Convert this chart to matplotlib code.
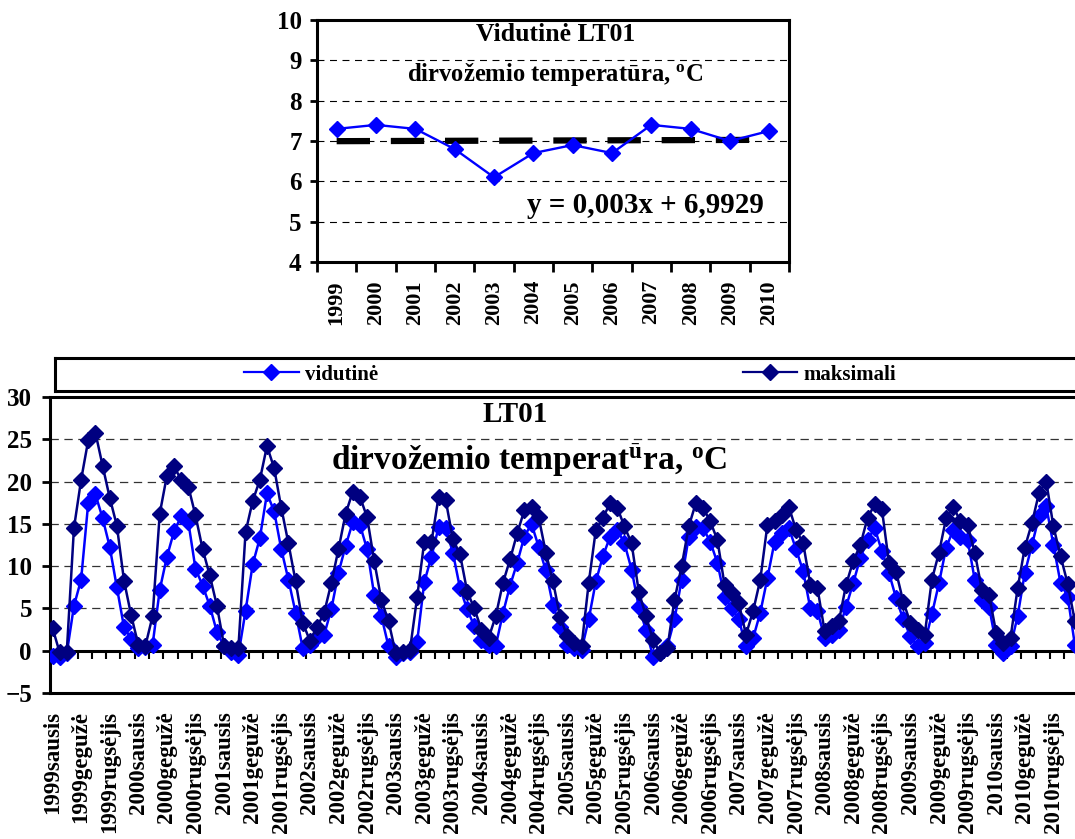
import numpy as np
import matplotlib
matplotlib.use('Agg')
import matplotlib.pyplot as plt
from matplotlib.lines import Line2D

plt.rcParams['font.family'] = ['Liberation Serif', 'DejaVu Serif']
plt.rcParams['font.weight'] = 'bold'
plt.rcParams['mathtext.default'] = 'regular'
plt.rcParams['lines.scale_dashes'] = False

# yearly mean soil temperature (top chart)
years = [1999, 2000, 2001, 2002, 2003, 2004, 2005, 2006, 2007, 2008, 2009, 2010]
yearly_mean = [7.3, 7.4, 7.3, 6.8, 6.1, 6.7, 6.9, 6.7, 7.4, 7.3, 7.0, 7.25]
trend_slope, trend_icpt = 0.003, 6.9929

# monthly values (bottom chart), one row per year
vidutine = [
    -0.6, -0.8, -0.3, 5.3, 8.4, 17.5, 18.5, 15.7, 12.3, 7.5, 2.8, 1.4,
    0.3, 0.4, 0.7, 7.2, 11.1, 14.1, 15.9, 15.2, 9.7, 7.7, 5.3, 2.2,
    0.5, -0.1, -0.5, 4.7, 10.2, 13.3, 18.6, 16.5, 12.0, 8.4, 4.5, 0.3,
    0.7, 1.6, 1.9, 4.9, 9.2, 12.4, 15.2, 14.9, 12.0, 6.6, 4.1, 0.5,
    -0.7, -0.3, -0.1, 1.0, 8.1, 11.1, 14.6, 14.5, 11.6, 7.4, 4.9, 2.9,
    1.3, 0.7, 0.6, 4.4, 7.7, 10.4, 13.5, 15.0, 12.3, 9.5, 5.4, 2.8,
    0.7, 0.3, 0.1, 3.7, 8.2, 11.2, 13.5, 14.3, 12.7, 9.6, 5.2, 2.5,
    -0.7, -0.3, 0.5, 3.7, 8.4, 13.5, 14.6, 14.5, 12.9, 10.4, 6.4, 5.0,
    3.7, 0.5, 1.5, 4.5, 8.6, 12.9, 13.9, 14.5, 12.0, 9.4, 5.0, 4.7,
    1.5, 1.9, 2.5, 5.2, 8.0, 11.0, 13.1, 14.5, 11.8, 9.2, 6.2, 3.7,
    1.7, 0.5, 0.9, 4.3, 8.0, 12.2, 14.3, 13.5, 13.1, 8.4, 6.0, 5.2,
    0.7, -0.3, 0.5, 4.1, 9.2, 12.5, 15.9, 17.1, 12.5, 8.0, 6.4, 0.7,
]
maksimali = [
    2.7, -0.2, -0.1, 14.5, 20.2, 24.9, 25.8, 21.9, 18.1, 14.8, 8.3, 4.2,
    0.7, 0.6, 4.1, 16.2, 20.7, 21.8, 20.2, 19.4, 16.0, 12.0, 8.9, 5.3,
    0.6, 0.3, 0.3, 14.0, 17.7, 20.2, 24.2, 21.6, 16.9, 12.7, 8.2, 3.3,
    1.2, 2.8, 4.5, 8.0, 12.0, 16.2, 18.8, 18.2, 15.8, 10.6, 6.0, 3.5,
    -0.3, -0.1, 0.1, 6.3, 12.9, 12.8, 18.2, 17.8, 13.2, 11.4, 7.0, 5.0,
    2.5, 1.5, 4.1, 8.0, 10.8, 13.9, 16.6, 17.0, 15.8, 11.6, 8.2, 4.0,
    1.7, 0.9, 0.5, 8.0, 14.3, 15.7, 17.5, 16.9, 14.7, 12.7, 7.0, 4.1,
    1.3, -0.3, 0.3, 6.0, 10.0, 14.7, 17.5, 16.9, 15.3, 13.1, 7.8, 6.8,
    5.6, 1.9, 4.7, 8.4, 14.9, 15.3, 16.0, 17.0, 14.3, 12.7, 7.8, 7.4,
    2.3, 2.9, 3.5, 7.8, 10.6, 12.5, 15.7, 17.3, 16.8, 10.4, 9.3, 5.8,
    3.3, 2.5, 1.9, 8.4, 11.6, 15.7, 17.0, 15.3, 14.9, 11.6, 7.2, 6.6,
    2.1, 0.9, 1.5, 7.4, 12.2, 15.1, 18.7, 20.0, 14.7, 11.2, 7.9, 3.5,
]
label_months = ['sausis', 'gegužė', 'rugsėjis']   # every 4th month is labelled

BLUE = '#0000FF'
NAVY = '#000080'
W, H = 1075, 839

fig = plt.figure(figsize=(W / 100, H / 100), dpi=100, facecolor='white')

# ---------------- top chart ----------------
ax1 = fig.add_axes([317 / W, (H - 262) / H, 472 / W, 242 / H])
xi = np.arange(len(years))
trend = trend_icpt + trend_slope * (xi + 1)
for g in range(5, 10):
    ax1.axhline(g, color='black', lw=0.8, ls=(0, (5, 4)), zorder=1)
ax1.plot(xi, trend, color='black', lw=4.5, ls=(0, (24, 15)),
         dash_capstyle='butt', zorder=2)
ax1.plot(xi, yearly_mean, color=BLUE, lw=1.7, marker='D', ms=8.5, zorder=3)
ax1.set_xlim(-0.5, len(years) - 0.5)
ax1.set_ylim(4, 10)
ax1.set_yticks(range(4, 11))
ax1.tick_params(axis='y', length=5, width=2, pad=6, labelsize=18)
ax1.set_xticks(np.arange(-0.5, len(years), 1))
ax1.set_xticklabels([])
ax1.tick_params(axis='x', which='major', length=7, width=2)
ax1.set_xticks(xi, minor=True)
ax1.set_xticklabels([str(y) for y in years], minor=True, rotation=90, fontsize=16)
ax1.tick_params(axis='x', which='minor', length=0, pad=13)
for s in ax1.spines.values():
    s.set_linewidth(2.2)
ax1.text(5.57, 9.65, 'Vidutinė LT01', ha='center', va='center', fontsize=18.5)
ax1.text(5.55, 8.66, 'dirvožemio temperatūra, $^{o}$C', ha='center', va='center',
         fontsize=17.7)
ax1.text(7.84, 5.41, 'y = 0,003x + 6,9929', ha='center', va='center', fontsize=21)

# ---------------- legend box ----------------
axl = fig.add_axes([55 / W, (H - 391) / H, 1030 / W, 33 / H])
axl.set_xticks([])
axl.set_yticks([])
for s in axl.spines.values():
    s.set_linewidth(2.2)
handles = [Line2D([], [], color=BLUE, lw=1.6, marker='D', ms=8),
           Line2D([], [], color=NAVY, lw=1.6, marker='D', ms=8)]
axl.legend(handles, ['vidutinė', 'maksimali'], loc='center', ncol=2,
           frameon=False, fontsize=15, handlelength=2.6, handletextpad=0.3,
           columnspacing=17.5)

# ---------------- bottom chart ----------------
ax = fig.add_axes([50 / W, (H - 693) / H, 1032 / W, 296 / H])
x = np.arange(len(vidutine))
ax.plot(x, vidutine, color=BLUE, lw=1.8, marker='D', ms=7.8, zorder=3)
ax.plot(x, maksimali, color=NAVY, lw=1.8, marker='D', ms=7.8, zorder=4)
ax.set_xlim(-0.35, 144)
ax.set_ylim(-5, 30)
ax.set_yticks(range(-5, 31, 5))
for g in range(5, 30, 5):
    ax.axhline(g, color='#333333', lw=0.9, ls=(0, (6, 4)), zorder=1)
ax.tick_params(axis='y', length=6, width=2, pad=7, labelsize=18)

lab_pos = np.arange(0, len(x), 4)
lab_txt = [f'{years[i // 12]}{label_months[(i % 12) // 4]}' for i in lab_pos]
ax.set_xticks(lab_pos)
ax.set_xticklabels(lab_txt, rotation=90, fontsize=16.5)
ax.tick_params(axis='x', length=0, pad=13)
ax.spines['right'].set_visible(False)
for s in ('left', 'top', 'bottom'):
    ax.spines[s].set_linewidth(2.2)

sec = ax.secondary_xaxis(5 / 35)
sec.set_xticks(np.arange(1.5, len(x), 2))
sec.set_xticklabels([])
sec.tick_params(axis='x', length=6, width=1.5, direction='out')
sec.spines['bottom'].set_linewidth(2.2)

ax.text(64.7, 27.9, 'LT01', ha='center', va='center', fontsize=21)
ax.text(66.6, 22.55, 'dirvožemio temperat$^{ū}$ra, $^{o}$C', ha='center',
        va='center', fontsize=24)

fig.savefig('out.png', dpi=100)
